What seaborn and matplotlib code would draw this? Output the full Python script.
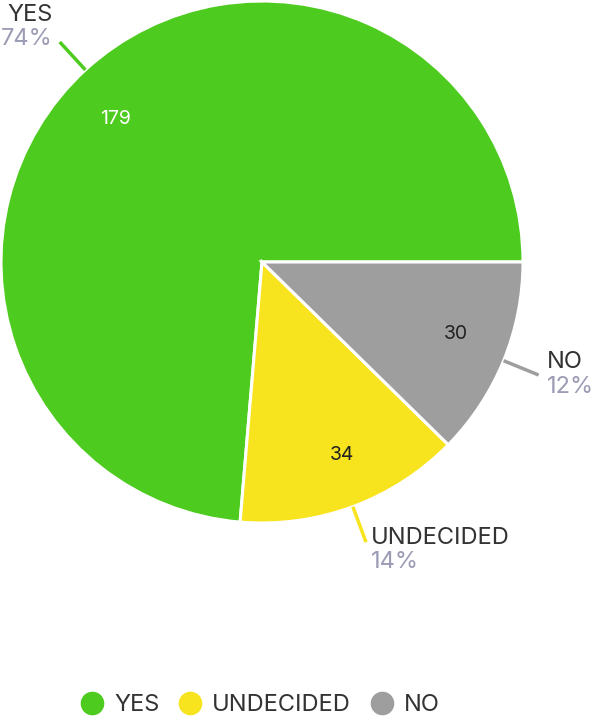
import numpy as np
import matplotlib.pyplot as plt
from matplotlib.lines import Line2D
import seaborn as sns

labels = ["YES", "UNDECIDED", "NO"]
counts = [179, 34, 30]
colors = ["#4ecb1f", "#f7e41e", "#9e9e9e"]

sns.set_theme(style="white")
plt.rcParams["font.family"] = ["Inter", "DejaVu Sans"]

palette = sns.color_palette(colors)
pct = np.array(counts) / sum(counts) * 100

fig = plt.figure(figsize=(5.93, 7.2), dpi=100)
ax = fig.add_axes([1 / 593, (720 - 523) / 720, 522 / 593, 522 / 720])
wedges, _ = ax.pie(counts, colors=palette, startangle=0, counterclock=True,
                   radius=1, wedgeprops=dict(edgecolor="white", linewidth=2.2))
ax.set_xlim(-1, 1)
ax.set_ylim(-1, 1)
ax.set_aspect("equal")
ax.axis("off")

# label offsets (dx, dy) from the end of each leader line
offsets = [(-0.027, 0.062), (0.02, -0.025), (0.033, 0.008)]

for i, w in enumerate(wedges):
    mid = np.deg2rad((w.theta1 + w.theta2) / 2)
    c, s = np.cos(mid), np.sin(mid)
    # value inside
    a = mid + np.deg2rad(2.5)
    ax.text(0.79 * np.cos(a), 0.79 * np.sin(a) - 0.01, str(counts[i]),
            ha="center", va="center", fontsize=14,
            color="white" if i == 0 else "#222222")
    # leader line
    ax.plot([1.0 * c, 1.145 * c], [1.0 * s, 1.145 * s], color=colors[i],
            lw=2.5, clip_on=False, solid_capstyle="butt")
    ex, ey = 1.145 * c, 1.145 * s
    ha = "left" if c > 0 else "right"
    tx, ty = ex + offsets[i][0], ey + offsets[i][1]
    ax.text(tx, ty, labels[i], ha=ha, va="bottom", fontsize=17,
            color="#333333", clip_on=False)
    ax.text(tx, ty - 0.01, f"{pct[i]:.0f}%", ha=ha, va="top", fontsize=17,
            color="#9b9bb5", clip_on=False)

handles = [Line2D([0], [0], marker="o", linestyle="", markersize=16,
                  markerfacecolor=colors[i], markeredgecolor=colors[i])
           for i in range(3)]
fig.legend(handles, labels, loc="center", bbox_to_anchor=(260 / 593, 1 - 705 / 720),
           ncol=3, frameon=False, fontsize=17, handlelength=1.0,
           handletextpad=0.43, columnspacing=0.8, labelcolor="#333333")

fig.savefig("out.png", dpi=100)
